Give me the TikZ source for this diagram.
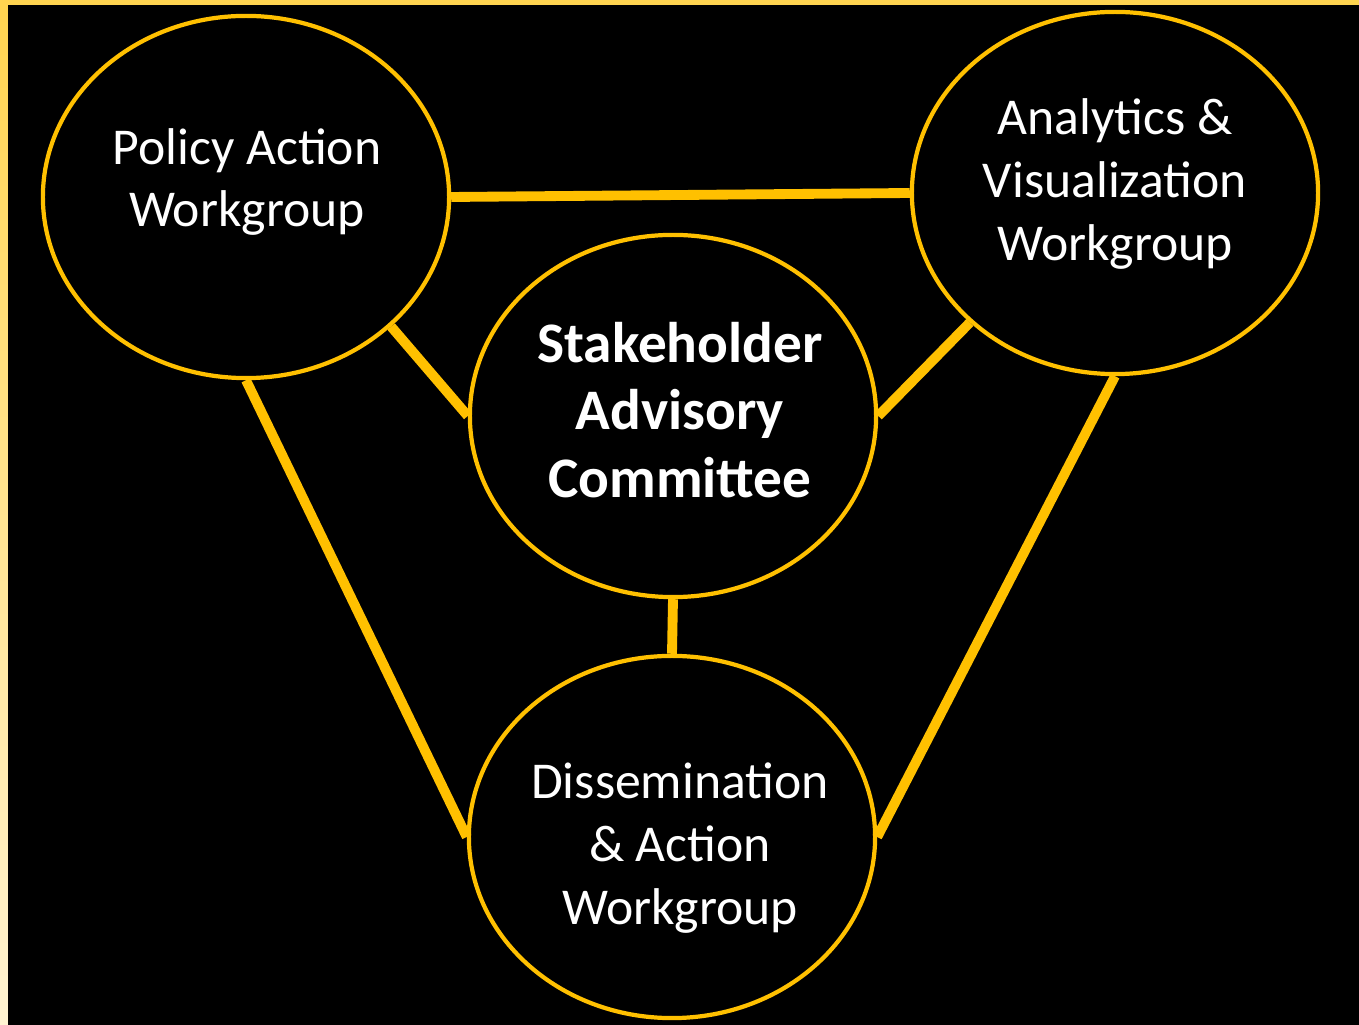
\documentclass[tikz,border=0pt]{standalone}
\usepackage{fontspec}
\setmainfont{Carlito}
\usetikzlibrary{shapes.geometric}

\definecolor{gold}{HTML}{FFC000}
\definecolor{framegold}{HTML}{FFD450}
\definecolor{framepale}{HTML}{FFF3D2}

\tikzset{
  group/.style={ellipse,draw=gold,line width=1.2pt,fill=black,
    minimum width=4.06cm,minimum height=3.62cm,inner sep=0pt},
  grouptext/.style={text=white,align=center,inner sep=0pt,
    font=\fontsize{14.7}{17.9}\selectfont},
  link/.style={gold,line width=2.8pt}
}

\begin{document}
\begin{tikzpicture}[x=0.01cm,y=-0.01cm]
	\fill[black] (0,0) rectangle (1359,1025);
	\useasboundingbox (0,0) rectangle (1359,1025);
	% frame strips on top and left
	\fill[framegold] (0,0) rectangle (1359,5);
	\shade[top color=framegold,bottom color=framepale] (0,5) rectangle (8,1025);

	\node[group] (policy) at (246,197) {};
	\node[group] (analytics) at (1115,193) {};
	\node[group] (sac) at (673,416) {};
	\node[group] (dissem) at (672,837) {};

	\node[grouptext] (policy-txt) at (247,182) {Policy Action\\Workgroup};
	\node[grouptext] (analytics-txt) at (1115,184) {Analytics \&\\Visualization\\Workgroup};
	\node[grouptext,font=\fontsize{16.3}{19.1}\selectfont\bfseries] (sac-txt) at (680,410) {Stakeholder\\Advisory\\Committee};
	\node[grouptext] (dissem-txt) at (680,848) {Dissemination\\\& Action\\Workgroup};

	\begin{scope}[link]
	    \draw (policy.east) -- (analytics.west);
	    \draw (policy.south east) -- (sac.west);
	    \draw (analytics.south west) -- (sac.east);
	    \draw (sac.south) -- (dissem.north);
	    \draw (policy.south) -- (dissem.west);
	    \draw (analytics.south) -- (dissem.east);
	\end{scope}
\end{tikzpicture}
\end{document}
